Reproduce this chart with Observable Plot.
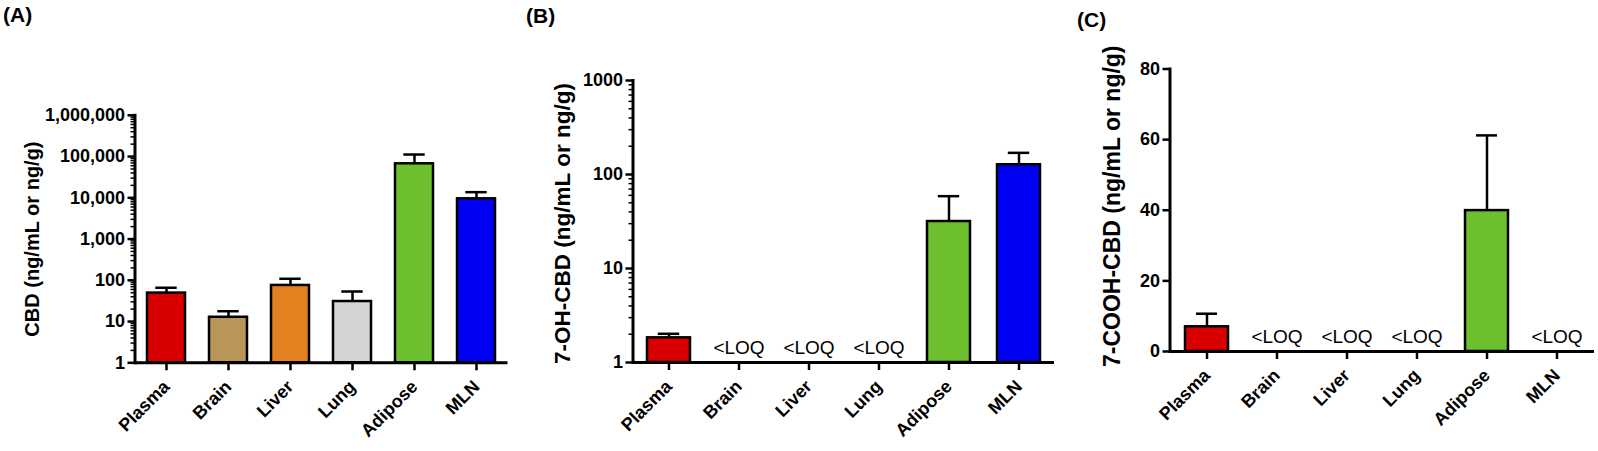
<!DOCTYPE html>
<html>
<head>
<meta charset="utf-8">
<script src="https://cdn.jsdelivr.net/npm/d3@7"></script>
<script src="https://cdn.jsdelivr.net/npm/@observablehq/plot@0.6"></script>
<style>
  html, body { margin: 0; padding: 0; background: #fff; }
  #wrap { position: relative; width: 1598px; height: 451px; overflow: hidden; font-family: "Liberation Sans", Arial, sans-serif; }
  .panel { position: absolute; top: 0; }
  .plabel { position: absolute; font-weight: bold; font-size: 21px; line-height: 1; color: #000; }
</style>
</head>
<body>
<div id="wrap">
  <div class="plabel" style="left:3px; top:4px;">(A)</div>
  <div class="plabel" style="left:526px; top:5px;">(B)</div>
  <div class="plabel" style="left:1077px; top:9px;">(C)</div>
  <div class="panel" id="pA" style="left:0px;"></div>
  <div class="panel" id="pB" style="left:530px;"></div>
  <div class="panel" id="pC" style="left:1062px;"></div>
</div>
<script>
const categories = ["Plasma", "Brain", "Liver", "Lung", "Adipose", "MLN"];
const colors = ["#d80000", "#b9955a", "#e3801f", "#d4d4d4", "#6ebf2e", "#0000f2"];

// Panel A: CBD (mean and mean + error)
const cbdMean  = [49, 12.7, 75, 30.6, 66700, 9460];
const cbdUpper = [66, 17.8, 109, 53.5, 112000, 13700];
// Panel B: 7-OH-CBD (null = <LOQ)
const ohMean  = [1.83, null, null, null, 31.6, 127];
const ohUpper = [2.02, null, null, null, 58.8, 170];
// Panel C: 7-COOH-CBD (null = <LOQ)
const coohMean  = [7.0, null, null, null, 39.9, null];
const coohUpper = [10.7, null, null, null, 61.2, null];

const ticksA = [1, 10, 100, 1000, 10000, 100000, 1000000];
const ticksB = [1, 10, 100, 1000];
const ticksC = [0, 20, 40, 60, 80];

const FONT = '"Liberation Sans", Arial, Helvetica, sans-serif';

function minorTicks(majors) {
  const out = [];
  for (let i = 0; i < majors.length - 1; i++) {
    for (let k = 2; k <= 9; k++) out.push(majors[i] * k);
  }
  return out;
}

function rows(means, uppers) {
  return categories.map((c, i) => ({cat: c, v: means[i], hi: uppers[i]}));
}

function panel(opts) {
  const data = rows(opts.means, opts.uppers);
  const present = data.filter(d => d.v != null);
  const loq = data.filter(d => d.v == null);
  const marks = [
    Plot.ruleX(present, {x: "cat", y1: "v", y2: "hi", stroke: "#000", strokeWidth: 2.5}),
    Plot.tickY(present, {x: "cat", y: "hi", stroke: "#000", strokeWidth: 2.5, inset: opts.capInset}),
    Plot.barY(present, {x: "cat", y1: opts.base, y2: "v", fill: "cat", stroke: "#000", strokeWidth: 2.5}),
    Plot.text(loq, {x: "cat", text: () => "<LOQ", frameAnchor: "bottom", lineAnchor: "bottom", dy: -9,
      fontSize: 19, fontWeight: "normal", fill: "#000"}),
  ];
  if (opts.minor) {
    marks.push(Plot.axisY({ticks: opts.minor, tickSize: 4, tickFormat: () => "", label: null, strokeWidth: 1.5}));
  }
  marks.push(
    Plot.axisY({ticks: opts.ticks, tickSize: 7, tickPadding: 3, tickFormat: opts.fmt, label: null,
      fontSize: 18, fontWeight: "bold", strokeWidth: 2.5}),
    Plot.axisX({tickSize: 8, tickPadding: 13, tickRotate: -45, label: null, fontSize: 18, fontWeight: "bold", strokeWidth: 2.5}),
    Plot.ruleY([opts.base], {stroke: "#000", strokeWidth: 3}),
    Plot.frame({anchor: "left", stroke: "#000", strokeWidth: 3}),
    Plot.text([opts.title], {frameAnchor: "left", rotate: -90, dx: opts.titleDx, dy: opts.titleDy,
      fontSize: opts.titleSize, fontWeight: "bold", fill: "#000", textAnchor: "middle"})
  );
  return Plot.plot({
    width: opts.width,
    height: 451,
    marginLeft: opts.ml,
    marginRight: opts.mr,
    marginTop: opts.mt,
    marginBottom: opts.mb,
    style: {fontFamily: FONT, fontSize: "18px", fontWeight: "bold", color: "#000", background: "transparent", overflow: "visible"},
    x: {domain: categories, paddingInner: 0.38, paddingOuter: 0.19, align: 0.5},
    y: opts.yScale,
    color: {domain: categories, range: colors},
    marks
  });
}

document.getElementById("pA").appendChild(panel({
  means: cbdMean, uppers: cbdUpper, base: 1,
  width: 520, ml: 134.5, mr: 12.5, mt: 114.8, mb: 88.7,
  yScale: {type: "log", domain: [1, 1000000]},
  ticks: ticksA, minor: minorTicks(ticksA), fmt: d3.format(","),
  capInset: 8.3,
  title: "CBD (ng/mL or ng/g)", titleDx: -102, titleDy: 0, titleSize: 20
}));

document.getElementById("pB").appendChild(panel({
  means: ohMean, uppers: ohUpper, base: 1,
  width: 530, ml: 102.5, mr: 6, mt: 80, mb: 89,
  yScale: {type: "log", domain: [1, 1000]},
  ticks: ticksB, minor: minorTicks(ticksB), fmt: d3.format("d"),
  capInset: 10.8,
  title: "7-OH-CBD (ng/mL or ng/g)", titleDx: -70, titleDy: 2, titleSize: 22.5
}));

document.getElementById("pC").appendChild(panel({
  means: coohMean, uppers: coohUpper, base: 0,
  width: 536, ml: 107.5, mr: 4, mt: 68.5, mb: 100,
  yScale: {type: "linear", domain: [0, 80]},
  ticks: ticksC, minor: null, fmt: d3.format("d"),
  capInset: 11,
  title: "7-COOH-CBD (ng/mL or ng/g)", titleDx: -57, titleDy: -4, titleSize: 23
}));
</script>
</body>
</html>
